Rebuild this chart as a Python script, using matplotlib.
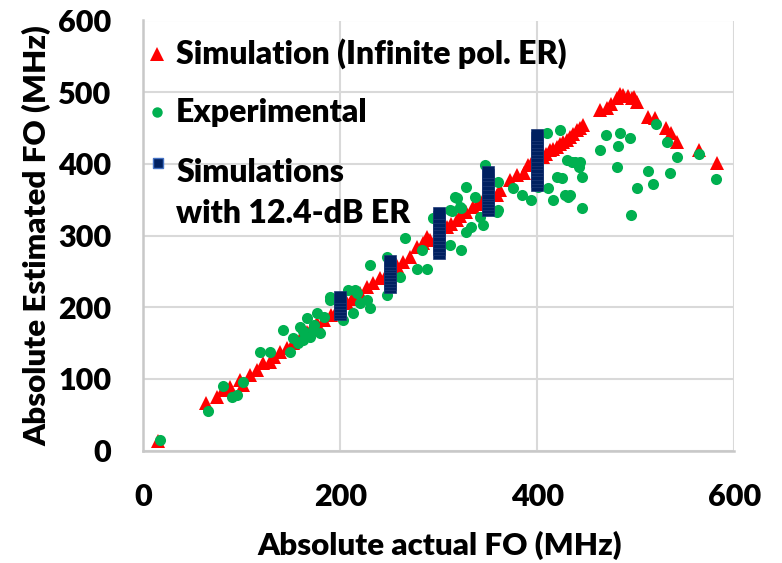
import matplotlib
matplotlib.use("Agg")
import matplotlib.pyplot as plt

plt.rcParams['font.family'] = ['Lato', 'DejaVu Sans']
plt.rcParams['font.weight'] = 'heavy'

# Simulation (Infinite pol. ER) - red triangles
sim_x = [15, 64, 74.5, 81, 88, 98, 101, 108, 115, 121.6, 128.6, 133, 139, 145.6, 152, 160, 166,
         170, 176, 183, 191, 196, 200, 206.5, 212, 220, 227, 233.5, 240, 247, 252, 258, 264,
         270.8, 277.6, 284, 287.7, 291, 300, 308, 312, 318, 322, 328, 335, 340, 345, 359, 362,
         372, 379, 386, 391, 395, 400, 406, 409, 413, 416, 420, 423, 426, 430, 433, 436, 440,
         443, 446.7, 463.6, 470.5, 475, 480.6, 484, 487.5, 492, 496, 498, 501, 512.7, 519.5,
         531, 536, 541.5, 564.5, 582]
sim_y = [14, 66, 75, 85, 89, 98.5, 92, 105, 112.5, 122, 124, 130, 138, 143, 150, 158, 165,
         170, 178, 182, 189, 194, 200, 205.6, 212, 220, 229, 233.5, 241, 248, 252, 258, 263.6,
         270.6, 284.5, 289, 298.5, 294, 305, 312, 316, 322, 327, 333, 340, 344, 350, 356.6, 363,
         377.6, 384.5, 387, 398.5, 402, 405, 410, 414, 419, 421, 424, 428, 431, 434, 438, 442, 447,
         450, 454, 475, 477.5, 484, 491.5, 497, 496, 495, 491.5, 493, 487, 466, 463.6,
         450, 443, 431, 419, 401]

# Experimental - green circles
exp_x = [16.5, 66, 80.6, 90, 95, 101, 118.5, 128.6, 149, 141.5, 151.7, 157, 162, 162, 166, 176,
         179, 169, 172.6, 159, 173, 183, 189.5, 189.6, 203, 208, 215, 216.6, 220, 226.8, 230,
         213, 230, 247, 247, 260.6, 265.7, 277.6, 287.7, 282.6, 294, 311, 323, 313, 318, 323,
         328, 337, 333, 345, 347, 360, 360, 375.6, 384, 394, 409.5, 423, 411, 416, 428, 430,
         420, 425, 438, 443, 445, 445, 401, 431.5, 442, 328, 342, 311, 321.5, 316, 359, 470,
         464, 484, 494, 482, 480.6, 501, 495, 512, 517, 520.5, 532, 535, 542, 564.5, 581, 433,
         435]
exp_y = [15, 56, 90, 75, 78, 96, 138, 138, 137, 169, 157, 150, 155, 167, 185, 192,
         164, 159, 168, 173, 175, 187, 215, 210, 182, 224, 224, 219.5, 205.6, 210, 198.6,
         192, 259, 270, 217, 242.7, 296, 254, 253, 280, 324, 287, 280, 335, 352, 338,
         368, 354, 312, 315, 398, 375, 336, 366, 357, 350, 443, 447, 366, 350, 357, 405,
         382, 380, 403, 403, 382, 338, 368, 354, 396, 305, 326, 336, 340, 354, 333, 440,
         419, 443, 436, 425, 396, 366, 329, 390.5, 371.5, 456, 431, 388, 409, 414, 379, 357,
         402]

# Simulations with 12.4-dB ER - dark blue squares
er_x = ([200] * 7 + [250] * 10 + [300] * 12 + [350] * 12 + [400] * 15)
er_y = ([190, 194, 198, 202, 206, 210, 214] +
        [229, 233, 237, 241, 245, 249, 253, 257, 261, 265] +
        [276, 281, 286, 291, 296, 301, 306, 311, 316, 321, 326, 331] +
        [336, 340, 344, 348, 352, 356, 360, 366, 372, 378, 384, 389] +
        [371, 376, 381, 386, 391, 396, 401, 406, 411, 416, 421, 426, 431, 436, 441])

x_ticks = [0, 200, 400, 600]
y_ticks = [0, 100, 200, 300, 400, 500, 600]
labels = ["Simulation (Infinite pol. ER)", "Experimental", "Simulations", "with 12.4-dB ER"]

RED = '#FF0000'
GREEN = '#00B050'
NAVY = '#002060'
W = 'heavy'

fig = plt.figure(figsize=(7.82, 5.63), dpi=100)
ax = fig.add_axes([143.3 / 782, 1 - 450.7 / 563, 591 / 782, 430.2 / 563])

ax.plot(sim_x, sim_y, linestyle='none', marker='^', markersize=9.5, color=RED,
        markeredgewidth=0, zorder=3)
ax.plot(exp_x, exp_y, linestyle='none', marker='o', markersize=8, color=GREEN,
        markeredgewidth=0, zorder=4)
ax.plot(er_x, er_y, linestyle='none', marker='s', markersize=8, color=NAVY,
        markeredgecolor='#1F3A78', markeredgewidth=0.5, zorder=5)

ax.set_xlim(0, 600)
ax.set_ylim(0, 600)
ax.set_xticks(x_ticks)
ax.set_yticks(y_ticks)
ax.grid(True, color='#D9D9D9', linewidth=1.5, zorder=0)
ax.set_axisbelow(True)
for s in ['top', 'right']:
    ax.spines[s].set_visible(False)
for s in ['left', 'bottom']:
    ax.spines[s].set_color('#C8C8C8')
    ax.spines[s].set_linewidth(1.8)
ax.tick_params(length=0, pad=23, labelsize=22)
for lab in ax.get_xticklabels() + ax.get_yticklabels():
    lab.set_fontweight(W)

ax.set_xlabel("Absolute actual FO (MHz)", fontsize=22.5, fontweight=W)
ax.set_ylabel("Absolute Estimated FO (MHz)", fontsize=22.5, fontweight=W)
ax.xaxis.set_label_coords(0.502, -0.187)
ax.xaxis.label.set_va('top')
ax.yaxis.set_label_coords(-0.155, 0.5)

# Legend (drawn inside the plot area, top-left)
tr = ax.transAxes
ax.plot([0.0232], [0.9221], transform=tr, marker='^', markersize=10, color=RED,
        linestyle='none', markeredgewidth=0, clip_on=False, zorder=6)
ax.plot([0.0227], [0.788], transform=tr, marker='o', markersize=7.5, color=GREEN,
        linestyle='none', markeredgewidth=0, clip_on=False, zorder=6)
ax.plot([0.0244], [0.668], transform=tr, marker='s', markersize=6.5, color=NAVY,
        linestyle='none', markeredgecolor='#4472C4', markeredgewidth=1, clip_on=False, zorder=6)
legend_fs = 23
for lbl, yb in zip(labels, [0.8989, 0.7648, 0.6253, 0.530]):
    ax.text(0.0555, yb, lbl, transform=tr, fontsize=legend_fs, fontweight=W,
            ha='left', va='baseline', zorder=6)

fig.savefig("out.png", dpi=100)
